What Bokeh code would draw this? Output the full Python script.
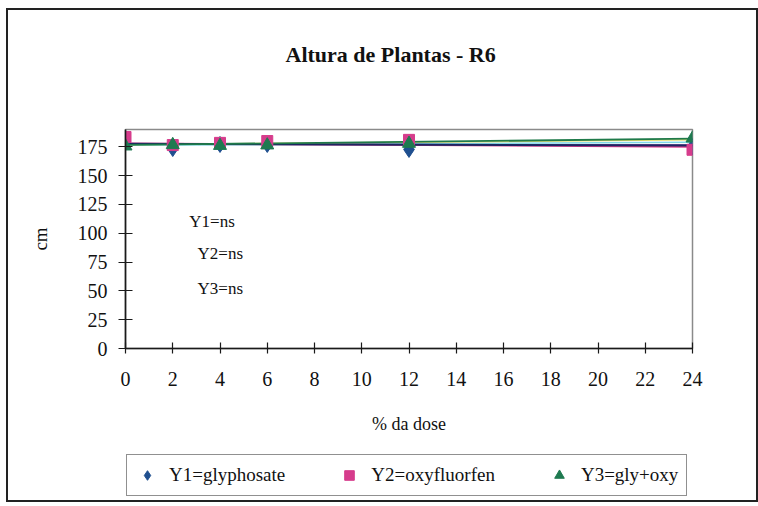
from bokeh.plotting import figure
from bokeh.layouts import column
from bokeh.models import Range1d, FixedTicker, Label, Legend, LegendItem, ColumnDataSource, Title
from bokeh.embed import file_html
from bokeh.resources import INLINE

# ---- data ----
dose = [0, 2, 4, 6, 12, 24]
y1_glyphosate = [180.0, 173.5, 177.0, 177.0, 172.7, 175.0]
y2_oxyfluorfen = [183.5, 176.5, 178.4, 180.0, 181.0, 172.4]
y3_gly_oxy = [175.5, 176.7, 176.0, 176.4, 177.8, 182.4]

fit_x = [0, 24]
fit_navy = [177.6, 176.2]
fit_cyan = [176.4, 179.0]
fit_yellow = [176.8, 181.0]
fit_green = [176.6, 182.0]
fit_purple = [177.3, 176.6]
fit_magenta = [178.0, 175.0]

y_ticks = [0, 25, 50, 75, 100, 125, 150, 175]
x_ticks = [0, 2, 4, 6, 8, 10, 12, 14, 16, 18, 20, 22, 24]

title_text = "Altura de Plantas - R6"
x_label = "% da dose"
y_label = "cm"
series_names = ["Y1=glyphosate", "Y2=oxyfluorfen", "Y3=gly+oxy"]
notes = ["Y1=ns", "Y2=ns", "Y3=ns"]
note_x = [2.7, 3.05, 3.05]
note_y = [110.0, 82.0, 52.0]

FONT = "Liberation Serif"
C1, C2, C3 = "#1f4f8f", "#d63c8c", "#1e7a50"

p = figure(width=748, height=430, output_backend="svg", toolbar_location=None,
           x_range=Range1d(0, 24), y_range=Range1d(0, 190),
           min_border_left=117, min_border_right=64, min_border_top=117,
           min_border_bottom=92)
p.background_fill_color = "white"
p.border_fill_color = "white"
p.outline_line_color = "#8a8a8a"
p.outline_line_width = 1.5
p.xgrid.visible = False
p.ygrid.visible = False

p.title.text = title_text
p.title.text_font = FONT
p.title.text_font_size = "22px"
p.title.text_font_style = "bold"
p.title.text_color = "#111111"
p.title.align = "left"
p.title.offset = 160
p.title.standoff = 58

# spacer panel between the title and the plot area
p.add_layout(Title(text=" ", text_font_size="8px", standoff=23), "above")

for ax in (p.xaxis[0], p.yaxis[0]):
    ax.axis_line_color = "#1a1a1a"
    ax.axis_line_width = 1.6
    ax.major_tick_line_color = "#1a1a1a"
    ax.major_tick_line_width = 1.2
    ax.minor_tick_line_color = None
    ax.major_label_text_font = FONT
    ax.major_label_text_font_size = "20px"
    ax.major_label_text_color = "#111111"
    ax.axis_label_text_font = FONT
    ax.axis_label_text_font_style = "normal"
    ax.axis_label_text_color = "#111111"

p.xaxis.ticker = FixedTicker(ticks=x_ticks)
p.yaxis.ticker = FixedTicker(ticks=y_ticks)
p.xaxis.major_tick_in = 6
p.xaxis.major_tick_out = 5
p.yaxis.major_tick_in = 7
p.yaxis.major_tick_out = 7
p.xaxis.major_label_standoff = 18
p.yaxis.major_label_standoff = 11
p.xaxis.axis_label = x_label
p.yaxis.axis_label = y_label
p.xaxis.axis_label_text_font_size = "18px"
p.yaxis.axis_label_text_font_size = "19px"
p.xaxis.axis_label_standoff = 25
p.yaxis.axis_label_standoff = 24

# fit lines
for ys, col, w in [(fit_cyan, "#7fd8e8", 1.5), (fit_yellow, "#e8e070", 1.5),
                   (fit_purple, "#6a3d9a", 1.5), (fit_magenta, "#d6388a", 1.8),
                   (fit_navy, "#1b2660", 2.0), (fit_green, "#1f7a4a", 1.8)]:
    p.line(fit_x, ys, line_color=col, line_width=w)

src = ColumnDataSource(dict(x=dose, y1=y1_glyphosate, y2=y2_oxyfluorfen, y3=y3_gly_oxy))
p.scatter("x", "y1", source=src, marker="diamond", size=16, fill_color=C1, line_color=C1)
p.scatter("x", "y2", source=src, marker="square", size=11, fill_color=C2, line_color=C2)
p.scatter("x", "y3", source=src, marker="triangle", size=13, fill_color=C3, line_color=C3)

for t, xx, yy in zip(notes, note_x, note_y):
    p.add_layout(Label(x=xx, y=yy, text=t, text_font=FONT, text_font_size="17px",
                       text_align="left", text_baseline="middle", text_color="#111111"))

# ---- legend strip (same series, drawn outside its view so only the key shows) ----
q = figure(width=748, height=60, output_backend="svg", toolbar_location=None,
           x_range=Range1d(0, 1), y_range=Range1d(0, 1),
           x_axis_location=None, y_axis_location=None,
           min_border=0, min_border_left=0, min_border_right=0,
           min_border_top=0, min_border_bottom=0)
q.xgrid.visible = False
q.ygrid.visible = False
q.outline_line_color = None
q.background_fill_color = "white"
q.border_fill_color = "white"
l1 = q.scatter("x", "y1", source=src, marker="diamond", size=16, fill_color=C1, line_color=C1)
l2 = q.scatter("x", "y2", source=src, marker="square", size=11, fill_color=C2, line_color=C2)
l3 = q.scatter("x", "y3", source=src, marker="triangle", size=13, fill_color=C3, line_color=C3)

legend = Legend(items=[LegendItem(label=series_names[0], renderers=[l1]),
                       LegendItem(label=series_names[1], renderers=[l2]),
                       LegendItem(label=series_names[2], renderers=[l3])],
                orientation="horizontal", location=(1, 4))
legend.label_text_font = FONT
legend.label_text_font_size = "19px"
legend.label_text_color = "#111111"
legend.border_line_color = "#222222"
legend.border_line_width = 1.5
legend.background_fill_color = "white"
legend.background_fill_alpha = 1.0
legend.glyph_width = 24
legend.glyph_height = 24
legend.label_standoff = 10
legend.spacing = 52
legend.padding = 8
legend.margin = 0
q.add_layout(legend)

layout = column(p, q, spacing=0,
                styles={"border": "2px solid #222222", "margin-left": "6px",
                        "margin-top": "8px", "background-color": "white"})

open("out.html", "w").write(file_html(layout, INLINE))
